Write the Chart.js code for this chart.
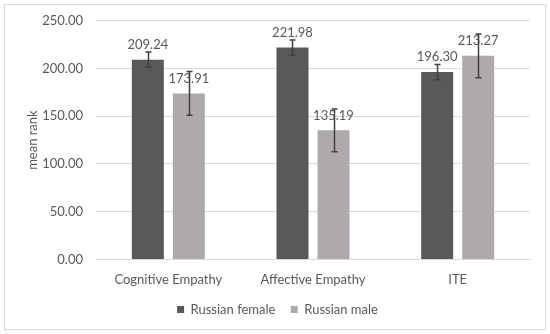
<!DOCTYPE html>
<html>
<head>
<meta charset="utf-8">
<script src="https://cdn.jsdelivr.net/npm/chart.js@4"></script>
<style>
html,body{margin:0;padding:0;background:#fff;}
#wrap{width:550px;height:334px;position:relative;}
</style>
</head>
<body>
<div id="wrap"><canvas id="c" width="550" height="334"></canvas></div>
<script>
const categories = ["Cognitive Empathy", "Affective Empathy", "ITE"];
const seriesNames = ["Russian female", "Russian male"];
const femaleValues = [209.24, 221.98, 196.30];
const maleValues = [173.91, 135.19, 213.27];
const femaleErrors = [8, 8, 8];
const maleErrors = [23, 22.5, 23];
const yTicks = [0, 50, 100, 150, 200, 250];

const FONT = "Lato, 'Open Sans', sans-serif";
const TXT = "#595959";

const frame = {
  id: "frame",
  beforeDraw(chart) {
    const ctx = chart.ctx;
    ctx.save();
    ctx.fillStyle = "#fff";
    ctx.fillRect(0, 0, chart.width, chart.height);
    ctx.strokeStyle = "#d9d9d9";
    ctx.lineWidth = 1;
    ctx.strokeRect(4.5, 4.5, 541, 325);
    ctx.restore();
  }
};

const labelsAndErrors = {
  id: "labelsAndErrors",
  afterDatasetsDraw(chart) {
    const ctx = chart.ctx;
    const y = chart.scales.y;
    const errs = [femaleErrors, maleErrors];
    ctx.save();
    ctx.font = "13px " + FONT;
    ctx.fillStyle = TXT;
    ctx.textAlign = "center";
    ctx.textBaseline = "middle";
    chart.data.datasets.forEach((ds, di) => {
      const meta = chart.getDatasetMeta(di);
      meta.data.forEach((bar, i) => {
        ctx.fillText(ds.data[i].toFixed(2), bar.x, bar.y - 15);
      });
    });
    ctx.strokeStyle = "#404040";
    ctx.lineWidth = 1.5;
    chart.data.datasets.forEach((ds, di) => {
      const meta = chart.getDatasetMeta(di);
      meta.data.forEach((bar, i) => {
        const v = ds.data[i], e = errs[di][i];
        const top = y.getPixelForValue(v + e);
        const bot = y.getPixelForValue(v - e);
        const x = Math.round(bar.x) + 0.5;
        ctx.beginPath();
        ctx.moveTo(x, top); ctx.lineTo(x, bot);
        ctx.moveTo(x - 3, top); ctx.lineTo(x + 3, top);
        ctx.moveTo(x - 3, bot); ctx.lineTo(x + 3, bot);
        ctx.stroke();
      });
    });
    ctx.restore();
  }
};

const baseGen = Chart.defaults.plugins.legend.labels.generateLabels;

new Chart(document.getElementById("c"), {
  type: "bar",
  data: {
    labels: categories,
    datasets: [
      { label: seriesNames[0], data: femaleValues, backgroundColor: "#595959",
        categoryPercentage: 0.567, barPercentage: 0.78 },
      { label: seriesNames[1], data: maleValues, backgroundColor: "#aeaaaa",
        categoryPercentage: 0.567, barPercentage: 0.78 }
    ]
  },
  options: {
    responsive: false,
    animation: false,
    devicePixelRatio: 1,
    layout: { padding: { left: 25, right: 20, top: 16, bottom: 8 } },
    plugins: {
      tooltip: { enabled: false },
      legend: {
        position: "bottom",
        labels: {
          boxWidth: 7, boxHeight: 7, color: TXT,
          font: { family: FONT, size: 13 }, padding: 2,
          generateLabels(chart) {
            const items = baseGen(chart);
            items.forEach((it, i) => { if (i < items.length - 1) it.text = it.text + "    "; });
            return items;
          }
        }
      }
    },
    scales: {
      x: {
        grid: { display: false, drawTicks: false },
        border: { display: true, color: "#d9d9d9" },
        ticks: { color: TXT, font: { family: FONT, size: 13 }, padding: 13 }
      },
      y: {
        min: 0, max: 250,
        afterBuildTicks(axis) { axis.ticks = yTicks.map(v => ({ value: v })); },
        afterFit(axis) { axis.width = 71; },
        grid: { color: "#d9d9d9", drawTicks: false },
        border: { display: false },
        ticks: { color: TXT, font: { family: FONT, size: 13 }, padding: 13,
                 callback: v => Number(v).toFixed(2) },
        title: { display: true, text: "mean rank", color: TXT,
                 font: { family: FONT, size: 13 }, padding: { top: 0, bottom: 4 } }
      }
    }
  },
  plugins: [frame, labelsAndErrors]
});
</script>
</body>
</html>
